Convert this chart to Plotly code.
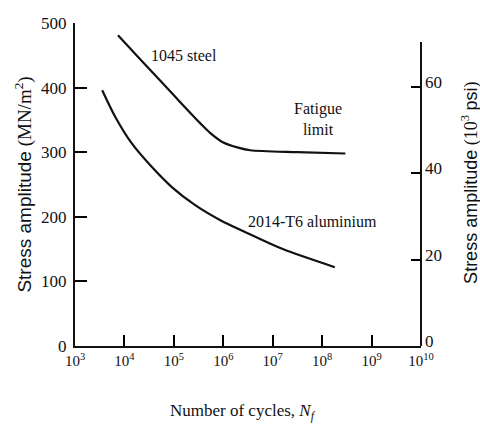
import plotly.graph_objects as go

# Data (cycles to failure vs stress amplitude, MN/m^2)
steel_cycles = [7.4e3, 2.4e4, 1.15e5, 3.4e5, 5.4e5, 1.0e6, 2.0e6, 3.5e6, 3.1e7, 2.95e8]
steel_stress = [481, 439, 383, 345, 330, 315, 307, 303, 300, 298]

alu_cycles = [3.55e3, 6.5e3, 1.4e4, 3.6e4, 9.1e4, 2.7e5, 9.1e5, 2.5e6, 1.6e7, 1.8e8]
alu_stress = [396, 355, 314, 277, 246, 218, 194, 178, 150, 122]

x_tickvals = [1e3, 1e4, 1e5, 1e6, 1e7, 1e8, 1e9, 1e10]
x_ticktext = ["10<sup>3</sup>", "10<sup>4</sup>", "10<sup>5</sup>", "10<sup>6</sup>",
              "10<sup>7</sup>", "10<sup>8</sup>", "10<sup>9</sup>", "10<sup>10</sup>"]
y_tickvals = [0, 100, 200, 300, 400, 500]
y2_tickvals = [0, 20, 40, 60]

SERIF = "Liberation Serif, Times New Roman, serif"
INK = "#111111"

fig = go.Figure()
fig.add_trace(go.Scatter(x=steel_cycles, y=steel_stress, mode="lines",
                         line=dict(color=INK, width=2.2, shape="spline", smoothing=0.8),
                         showlegend=False, hoverinfo="skip"))
fig.add_trace(go.Scatter(x=alu_cycles, y=alu_stress, mode="lines",
                         line=dict(color=INK, width=2.2, shape="spline", smoothing=0.8),
                         showlegend=False, hoverinfo="skip"))
# empty trace so the secondary (psi) axis is drawn
fig.add_trace(go.Scatter(x=[], y=[], yaxis="y2", showlegend=False, hoverinfo="skip"))

fig.update_layout(
    width=480, height=426,
    margin=dict(l=75, r=59, t=23, b=80),
    paper_bgcolor="white", plot_bgcolor="white",
    font=dict(family=SERIF, color=INK),
    xaxis=dict(type="log", range=[3, 10], tickvals=x_tickvals, ticktext=x_ticktext,
               ticks="inside", ticklen=11, tickwidth=1.5, tickcolor="black",
               showline=True, linecolor=INK, linewidth=2, showgrid=False, zeroline=False,
               layer="above traces",
               tickfont=dict(family=SERIF, size=15, color=INK)),
    yaxis=dict(range=[0, 500], tickvals=y_tickvals,
               ticks="inside", ticklen=12, tickwidth=1.5, tickcolor="black",
               showline=True, linecolor=INK, linewidth=2, showgrid=False, zeroline=False,
               ticklabelstandoff=3, layer="above traces",
               tickfont=dict(family=SERIF, size=17, color=INK)),
    yaxis2=dict(overlaying="y", side="right", range=[0, 74.8], tickvals=y2_tickvals,
                ticks="inside", ticklen=10, tickwidth=1.5, tickcolor="black",
                showline=False, showgrid=False, zeroline=False,
                ticklabelstandoff=3, ticklabelshift=-5,
                tickfont=dict(family=SERIF, size=17, color=INK)),
)

# right-hand axis line (shorter than the plot height, as in the original)
fig.add_shape(type="line", xref="paper", yref="y2", x0=1, x1=1, y0=0, y1=70.4,
              line=dict(color=INK, width=2))

ann = []
ann.append(dict(text="<span style='font-family:Liberation Sans'>Stress amplitude</span> (MN/m<sup>2</sup>)",
                xref="paper", yref="paper", x=-0.150, y=0.50, textangle=-90,
                xanchor="center", yanchor="middle",
                showarrow=False, font=dict(family=SERIF, size=19, color=INK)))
ann.append(dict(text="<span style='font-family:Liberation Sans'>Stress amplitude</span> (10<sup>3</sup> <span style='font-family:Liberation Sans'>psi</span>)",
                xref="paper", yref="paper", x=1.1416, y=0.505, textangle=-90,
                xanchor="center", yanchor="middle",
                showarrow=False, font=dict(family=SERIF, size=18, color=INK)))
ann.append(dict(text="Number of cycles, <i>N<sub>f</sub></i>",
                xref="paper", yref="paper", x=0.486, y=-0.205,
                xanchor="center", yanchor="middle",
                showarrow=False, font=dict(family=SERIF, size=17, color=INK)))
ann.append(dict(text="1045 steel", x=5.21, y=450, xref="x", yref="y",
                showarrow=False, font=dict(family=SERIF, size=16, color=INK)))
ann.append(dict(text="Fatigue<br>limit", x=7.92, y=352, xref="x", yref="y",
                showarrow=False, font=dict(family=SERIF, size=16, color=INK)))
ann.append(dict(text="2014-T6 aluminium", x=7.80, y=193, xref="x", yref="y",
                showarrow=False, font=dict(family=SERIF, size=16, color=INK)))
fig.update_layout(annotations=ann)

fig.write_html("out.html", config={"displayModeBar": False},
               post_script="document.body.style.margin='0';")
